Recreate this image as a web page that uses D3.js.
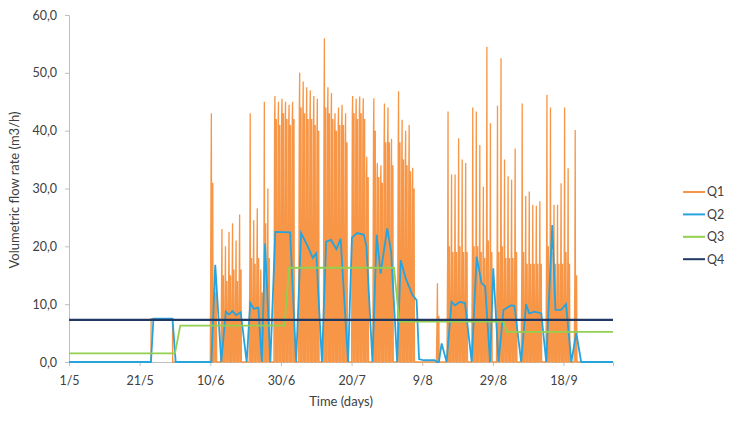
<!DOCTYPE html>
<html><head><meta charset="utf-8">
<script src="https://cdn.jsdelivr.net/npm/d3@7"></script>
<style>
html,body{margin:0;padding:0;background:#fff;}
svg{display:block;font-family:Lato,"Open Sans",sans-serif;}
</style></head>
<body><svg id="c" width="746" height="427"></svg>
<script>
// X ticks (day index from 1/5) and labels
const xTickDays = [0,20,40,60,80,100,120,140];
const xTickLabels = ["1/5","21/5","10/6","30/6","20/7","9/8","29/8","18/9"];
const yTicks = [0,10,20,30,40,50,60];
const yTickLabels = ["0,0","10,0","20,0","30,0","40,0","50,0","60,0"];
const seriesNames = ["Q1","Q2","Q3","Q4"];
const seriesColors = ["#F79646","#27A3DD","#92D050","#1F3864"];

// Q1: early block (day, value) and daily peaks from day 40
const q1EarlyDays = [0,23.2,23.25,29.3,29.35,40];
const q1EarlyVals = [0,0,7.5,7.5,0,0];
const q1StartDay = 40;
const q1Peak = [43,16,0,23,20,22.5,24,21,25.5,0,
  0,43,24.5,26.6,16,45,30,0,46,45,
  45.5,45,44.5,45,0,50,48.5,47.5,47,46,
  45.5,0,56,47.5,46.5,43,44,44.5,43,0,
  46,45.5,45.9,45.6,35.5,0,45.6,34.4,34,44.7,
  44,38.6,0,46.8,41.9,40,41,33.6,0,0,
  0,0,0,0,13.6,0,0,43.3,32.4,32.4,
  38.7,35,34.4,0,44,43.3,37.5,30.3,54.5,41.3,
  0,44.3,52.5,35,32.1,31.5,36.9,0,44.7,28.7,
  29.5,27.2,27,27.8,0,46.2,44,27.2,27.2,30.9,
  44,33.5,0,40.1,0];
const q1Base = [31,12,0,15,14,15,16,14,16,0,
  0,18,17,18,12,24,18,0,42,41,
  43,42,41,42,0,44,43,42,42,41,
  40,0,44,43,42,40,41,41,38,0,
  43,42,43,42,32,0,40,32,31,38,
  38,34,0,38,35,34,33,30,0,0,
  0,0,0,0,8,0,0,20,19,19,
  20,19,19,0,20,20,19,18,21,19,
  0,19,20,18,18,18,19,0,19,17,
  17,17,17,17,0,20,19,17,17,17,
  19,17,0,15,0];
const q1EndDay = 154;

// Q2 breakpoints
const q2Days = [0,23.2,23.9,29.3,30.2,40.3,41.4,43.1,44.4,45.3,46.3,47.3,48.6,50.3,51.3,52.3,53.6,54.6,55.5,57,
  58.4,62.6,64.3,65.7,67.6,69,70,71.6,72.8,74.2,75.7,76.9,79,80.1,81.6,83.5,84.2,85.9,87.1,88.2,
  90.1,91.2,92.9,93.9,95.3,97.2,98.4,99.1,100.5,103.5,104.3,104.7,105.5,106.9,108.3,109.3,110.7,112.1,114,115.4,
  116.8,117.8,119.2,120.1,121.6,123,125.1,126.1,128,129.4,130.3,131.8,133.7,135.1,136.8,137.7,139.3,140.7,142.2,143.6,
  145,154];
const q2Vals = [0,0,7.5,7.5,0,0,16.8,0,8.7,8.2,8.8,8.1,8.6,0,10.2,9.2,9.4,0,20.5,0,
  22.5,22.4,0,22.3,20,18,18.8,0,20.8,21.1,19.5,21.3,0,21.5,22.3,22,20,0,22,15.3,
  23.1,19,0,17.6,14.5,11.6,10.7,0.5,0.3,0.3,0,0,3.2,0,10.4,9.8,10.4,10.2,0,18.2,
  13.6,13.1,0,16.2,0,9,9.8,9.7,0,10,8.4,8.7,8.4,0,23.7,9,9,10,0,5,
  0,0];

// Q3 breakpoints
const q3Days = [0,30,31.5,61,62.3,92,93.5,123,124,154];
const q3Vals = [1.5,1.5,6.3,6.3,16.3,16.3,7.0,7.0,5.2,5.2];

// Q4 constant
const q4Days = [0,154];
const q4Vals = [7.3,7.3];

const svg = d3.select("#c");
const x = d3.scaleLinear().domain([0,154]).range([69,613]);
const y = d3.scaleLinear().domain([0,60]).range([362,15]);
const textColor = "#404040";

// Build Q1 points
const q1Pts = [];
q1EarlyDays.forEach((d,i)=>q1Pts.push([d,q1EarlyVals[i]]));
const offs = [0.2,0.3,0.4,0.5,0.6,0.7,0.8];
q1Peak.forEach((p,i)=>{
  const d = q1StartDay + i, b = q1Base[i];
  const v = [b,p,0,b,0,b,0];
  q1Pts.push([d,0]);
  offs.forEach((o,k)=>q1Pts.push([d+o, p===0?0:v[k]]));
});
q1Pts.push([q1StartDay+q1Peak.length,0]);
q1Pts.push([q1EndDay,0]);

const zip = (a,b)=>a.map((d,i)=>[d,b[i]]);
const data = [q1Pts, zip(q2Days,q2Vals), zip(q3Days,q3Vals), zip(q4Days,q4Vals)];
const widths = [1.3,1.8,1.8,2.2];

// Axes
const yAxis = d3.axisLeft(y).tickValues(yTicks).tickSize(4).tickPadding(8)
  .tickFormat((d,i)=>yTickLabels[i]);
const gy = svg.append("g").attr("transform","translate(69,0)").call(yAxis);
const xAxis = d3.axisBottom(x).tickValues(xTickDays).tickSize(4).tickPadding(10)
  .tickFormat((d,i)=>xTickLabels[i]);
const gx = svg.append("g").attr("transform","translate(0,362)").call(xAxis);
[gx,gy].forEach(g=>{
  g.select(".domain").attr("stroke","#bfbfbf").attr("stroke-width",1);
  g.selectAll(".tick line").attr("stroke","#bfbfbf");
  g.selectAll("text").attr("fill",textColor).style("font-size","12.5px").style("font-family","Lato,'Open Sans',sans-serif");
});

// Lines
const line = d3.line().x(d=>x(d[0])).y(d=>y(d[1]));
data.forEach((pts,i)=>{
  svg.append("path").datum(pts).attr("d",line)
    .attr("fill","none").attr("stroke",seriesColors[i])
    .attr("stroke-width",widths[i]).attr("stroke-linejoin","miter");
});

// Titles
svg.append("text").attr("x",341).attr("y",406).attr("text-anchor","middle")
  .attr("fill",textColor).style("font-size","13px").text("Time (days)");
svg.append("text").attr("transform","translate(19,190) rotate(-90)")
  .attr("text-anchor","middle").attr("fill",textColor).style("font-size","13px")
  .text("Volumetric  flow rate (m3/h)");

// Legend
const lg = svg.append("g");
seriesNames.forEach((n,i)=>{
  const yy = 192 + i*22.4;
  lg.append("line").attr("x1",683).attr("x2",705).attr("y1",yy).attr("y2",yy)
    .attr("stroke",seriesColors[i]).attr("stroke-width",2);
  lg.append("text").attr("x",707).attr("y",yy).attr("dy","0.35em")
    .attr("fill",textColor).style("font-size","12.5px").text(n);
});
</script></body></html>
